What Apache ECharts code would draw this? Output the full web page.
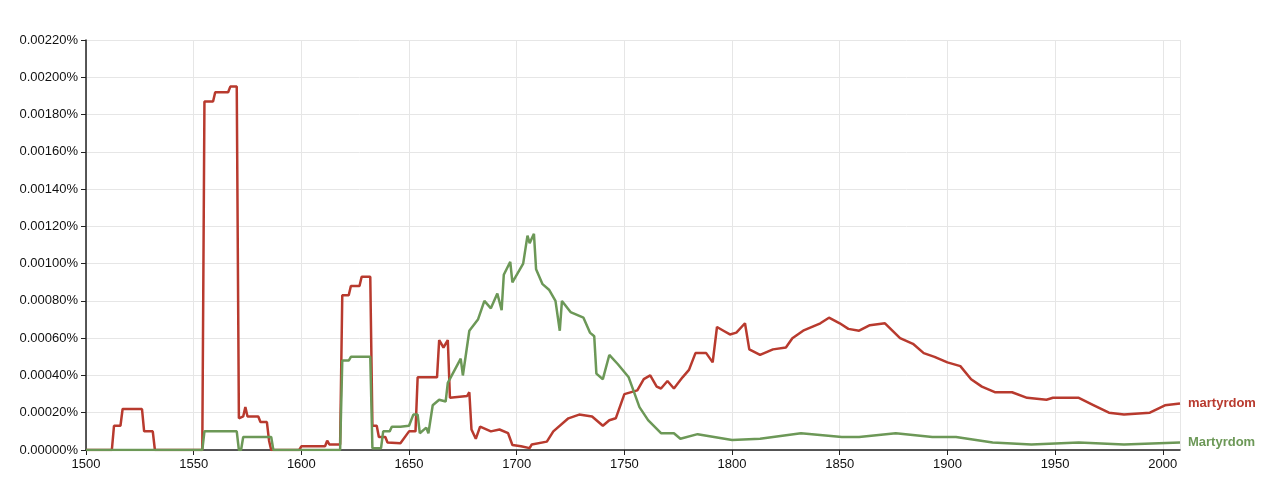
<!DOCTYPE html>
<html><head><meta charset="utf-8">
<script src="https://cdn.jsdelivr.net/npm/echarts@6/dist/echarts.min.js"></script>
<style>html,body{margin:0;padding:0;background:#fff}#c{width:1280px;height:480px}</style>
</head><body><div id="c"></div>
<script>
const redYears = [1500,1512,1513,1516,1517,1526,1527,1531,1532,1554,1555,1559,1560,1566,1567,1570,1571,1573,1574,1575,1580,1581,1584,1585,1586,1599,1600,1611,1612,1613,1617,1618,1619,1622,1623,1627,1628,1632,1633,1635,1636,1639,1640,1646,1650,1653,1654,1663,1664,1666,1668,1669,1677,1678,1679,1681,1683,1688,1692,1696,1698,1702,1706,1707,1714,1717,1724,1729,1735,1740,1743,1746,1750,1756,1759,1762,1765,1767,1770,1773,1777,1780,1783,1788,1791,1793,1796,1799,1802,1806,1808,1813,1819,1825,1828,1833,1841,1845,1850,1854,1859,1864,1871,1878,1884,1889,1894,1900,1906,1911,1916,1922,1930,1937,1946,1949,1961,1968,1975,1982,1994,2001,2008];
const redVals = [0,0,0.00013,0.00013,0.00022,0.00022,0.0001,0.0001,0,0,0.00187,0.00187,0.00192,0.00192,0.00195,0.00195,0.00017,0.00018,0.00023,0.00018,0.00018,0.00015,0.00015,0.00005,0,0,0.00002,0.00002,0.00005,0.00003,0.00003,0.00003,0.00083,0.00083,0.00088,0.00088,0.00093,0.00093,0.00013,0.00013,0.00007,0.00007,0.00004,0.000036,0.0001,0.0001,0.00039,0.00039,0.00059,0.00055,0.00059,0.00028,0.00029,0.00031,0.00011,0.00006,0.000125,0.0001,0.00011,0.00009,0.000027,0.00002,0.00001,0.00003,0.000045,0.0001,0.00017,0.00019,0.00018,0.00013,0.00016,0.00017,0.0003,0.00032,0.00038,0.0004,0.00034,0.00033,0.00037,0.00033,0.00039,0.00043,0.00052,0.00052,0.00047,0.00066,0.00064,0.00062,0.00063,0.00068,0.00054,0.00051,0.00054,0.00055,0.0006,0.00064,0.00068,0.00071,0.00068,0.00065,0.00064,0.00067,0.00068,0.0006,0.00057,0.00052,0.0005,0.00047,0.00045,0.00038,0.00034,0.00031,0.00031,0.00028,0.00027,0.00028,0.00028,0.00024,0.0002,0.00019,0.0002,0.00024,0.00025];
const greenYears = [1500,1554,1555,1570,1571,1572,1573,1586,1587,1618,1619,1622,1623,1632,1633,1637,1638,1641,1642,1646,1650,1652,1654,1655,1658,1659,1661,1664,1667,1668,1674,1675,1678,1682,1685,1688,1691,1693,1694,1697,1698,1703,1705,1706,1708,1709,1712,1715,1718,1720,1721,1725,1731,1734,1736,1737,1740,1743,1747,1752,1757,1761,1767,1773,1776,1784,1800,1813,1832,1851,1859,1876,1893,1904,1921,1939,1961,1982,2008];
const greenVals = [0,0,0.0001,0.0001,0,0,0.00007,0.00007,0,0,0.00048,0.00048,0.0005,0.0005,0.00001,0.00001,0.0001,0.0001,0.000125,0.000125,0.00013,0.00019,0.00019,0.00009,0.00012,0.00009,0.00024,0.00027,0.00026,0.00036,0.00049,0.0004,0.00064,0.0007,0.0008,0.00076,0.00084,0.00075,0.00094,0.00101,0.0009,0.001,0.00115,0.00111,0.00116,0.00097,0.00089,0.00086,0.0008,0.00064,0.0008,0.00074,0.00071,0.00063,0.00061,0.00041,0.00038,0.00051,0.00046,0.00039,0.00023,0.00016,0.00009,0.00009,0.00006,0.000085,0.000054,0.00006,0.00009,0.00007,0.00007,0.00009,0.00007,0.00007,0.00004,0.00003,0.00004,0.00003,0.00004];
const RED = '#b83a2e', GREEN = '#6c9857';
const pair = (xs, ys) => xs.map((x, i) => [x, ys[i]]);
const chart = echarts.init(document.getElementById('c'));
chart.setOption({
  animation: false,
  grid: {left: 86, right: 100, top: 40, bottom: 30},
  xAxis: {type: 'value', min: 1500, max: 2008, interval: 50,
    axisLine: {lineStyle: {color: '#222', width: 1.5}},
    axisTick: {lineStyle: {color: '#222'}},
    axisLabel: {color: '#111', fontSize: 13, fontFamily: 'Liberation Sans', showMaxLabel: false, formatter: v => String(v)},
    splitLine: {show: true, lineStyle: {color: '#e6e6e6'}}},
  yAxis: {type: 'value', min: 0, max: 0.0022, interval: 0.0002,
    axisLine: {show: true, lineStyle: {color: '#222', width: 1.5}},
    axisTick: {show: true, lineStyle: {color: '#222'}},
    axisLabel: {color: '#111', fontSize: 13, fontFamily: 'Liberation Sans', formatter: v => v.toFixed(5) + '%'},
    splitLine: {show: true, lineStyle: {color: '#e6e6e6'}}},
  series: [
    {name: 'martyrdom', type: 'line', data: pair(redYears, redVals), showSymbol: false,
     lineStyle: {color: RED, width: 2.5}, itemStyle: {color: RED},
     endLabel: {show: true, formatter: 'martyrdom', color: RED, fontWeight: 'bold', fontSize: 13, fontFamily: 'Liberation Sans'}},
    {name: 'Martyrdom', type: 'line', data: pair(greenYears, greenVals), showSymbol: false,
     lineStyle: {color: GREEN, width: 2.5}, itemStyle: {color: GREEN},
     endLabel: {show: true, formatter: 'Martyrdom', color: GREEN, fontWeight: 'bold', fontSize: 13, fontFamily: 'Liberation Sans'}}
  ]
});
</script></body></html>
